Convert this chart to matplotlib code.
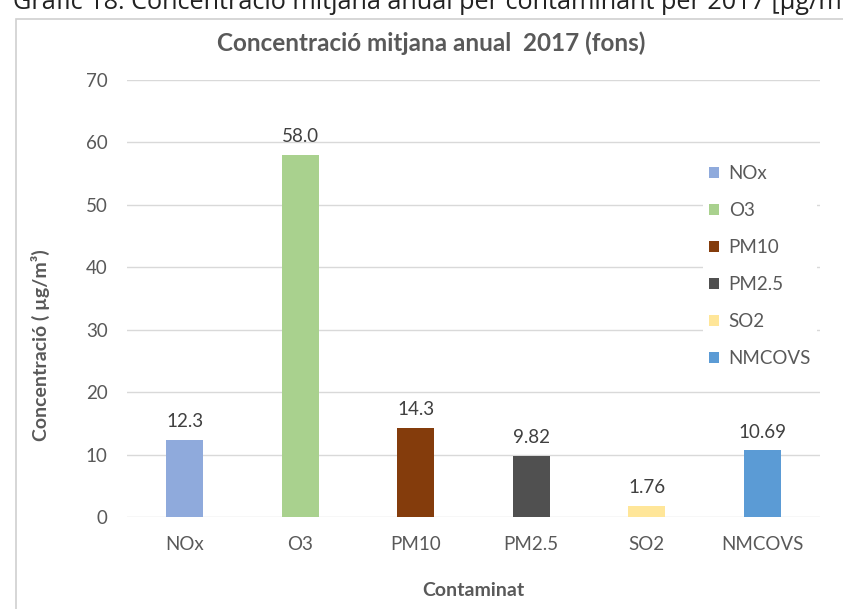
import matplotlib.pyplot as plt
from matplotlib.patches import Rectangle, Patch

plt.rcParams['font.family'] = ['Lato', 'DejaVu Sans']

contaminants = ["NOx", "O3", "PM10", "PM2.5", "SO2", "NMCOVS"]
values = [12.3, 58.0, 14.3, 9.82, 1.76, 10.69]
value_labels = ["12.3", "58.0", "14.3", "9.82", "1.76", "10.69"]
colors = ["#8FAADC", "#A9D18E", "#843C0C", "#505050", "#FFE699", "#5B9BD5"]
yticks = [0, 10, 20, 30, 40, 50, 60, 70]

fig = plt.figure(figsize=(8.43, 6.09), dpi=100)
W, H = 843, 609

# caption above the chart frame (partly cut by the page edge)
fig.text(13 / W, 1 - 9 / H, "Gràfic 18. Concentració mitjana anual per contaminant per 2017 [µg/m",
         family=['Open Sans', 'DejaVu Sans'], fontsize=18.2, color="#222222",
         ha="left", va="baseline")

# chart frame
fig.patches.append(Rectangle((16 / W, -0.05), 1.2, 1 - 19 / H + 0.05,
                             transform=fig.transFigure, fill=False,
                             edgecolor="#d0d0d0", linewidth=1.2))

ax = fig.add_axes([127 / W, 1 - 517 / H, (820 - 127) / W, (517 - 80) / H])
x = range(len(contaminants))
bars = ax.bar(x, values, width=0.32, color=colors, zorder=3)
for b, lab in zip(bars, value_labels):
    ax.annotate(lab, (b.get_x() + b.get_width() / 2, b.get_height()),
                xytext=(0, 7), textcoords="offset points", ha="center",
                va="bottom", fontsize=13.5, color="#404040")

ax.set_xlim(-0.5, len(contaminants) - 0.5)
ax.set_ylim(0, 70)
ax.set_yticks(yticks)
ax.set_xticks(list(x))
ax.set_xticklabels(contaminants)
ax.tick_params(length=0, labelsize=13.5, labelcolor="#595959")
ax.tick_params(axis="y", pad=14)
ax.tick_params(axis="x", pad=14)
ax.grid(axis="y", color="#d9d9d9", linewidth=1, zorder=0)
for s in ax.spines.values():
    s.set_visible(False)

ax.set_xlabel("Contaminat", fontsize=14, fontweight="bold", color="#595959")
ax.xaxis.set_label_coords(0.5, (517 - 582) / 437)
ax.set_ylabel("Concentració ( µg/m³)", fontsize=14, fontweight="bold", color="#595959")
ax.yaxis.set_label_coords((50 - 127) / 693, (517 - 345) / 437)

fig.text(431 / W, 1 - 43 / H, "Concentració mitjana anual  2017 (fons)",
         fontsize=17.5, fontweight="bold", color="#595959", ha="center", va="center")

handles = [Patch(facecolor=c, edgecolor="none") for c in colors]
leg = ax.legend(handles, contaminants, loc="upper left",
                bbox_to_anchor=((694 - 127) / 693, (517 - 150) / 437),
                frameon=True, fancybox=False, edgecolor="none", framealpha=1,
                fontsize=13.5, labelcolor="#595959", handlelength=0.55,
                handleheight=0.55, handletextpad=0.5, labelspacing=1.07,
                borderpad=0.3)
leg.set_zorder(5)

fig.savefig("out.png", dpi=100)
